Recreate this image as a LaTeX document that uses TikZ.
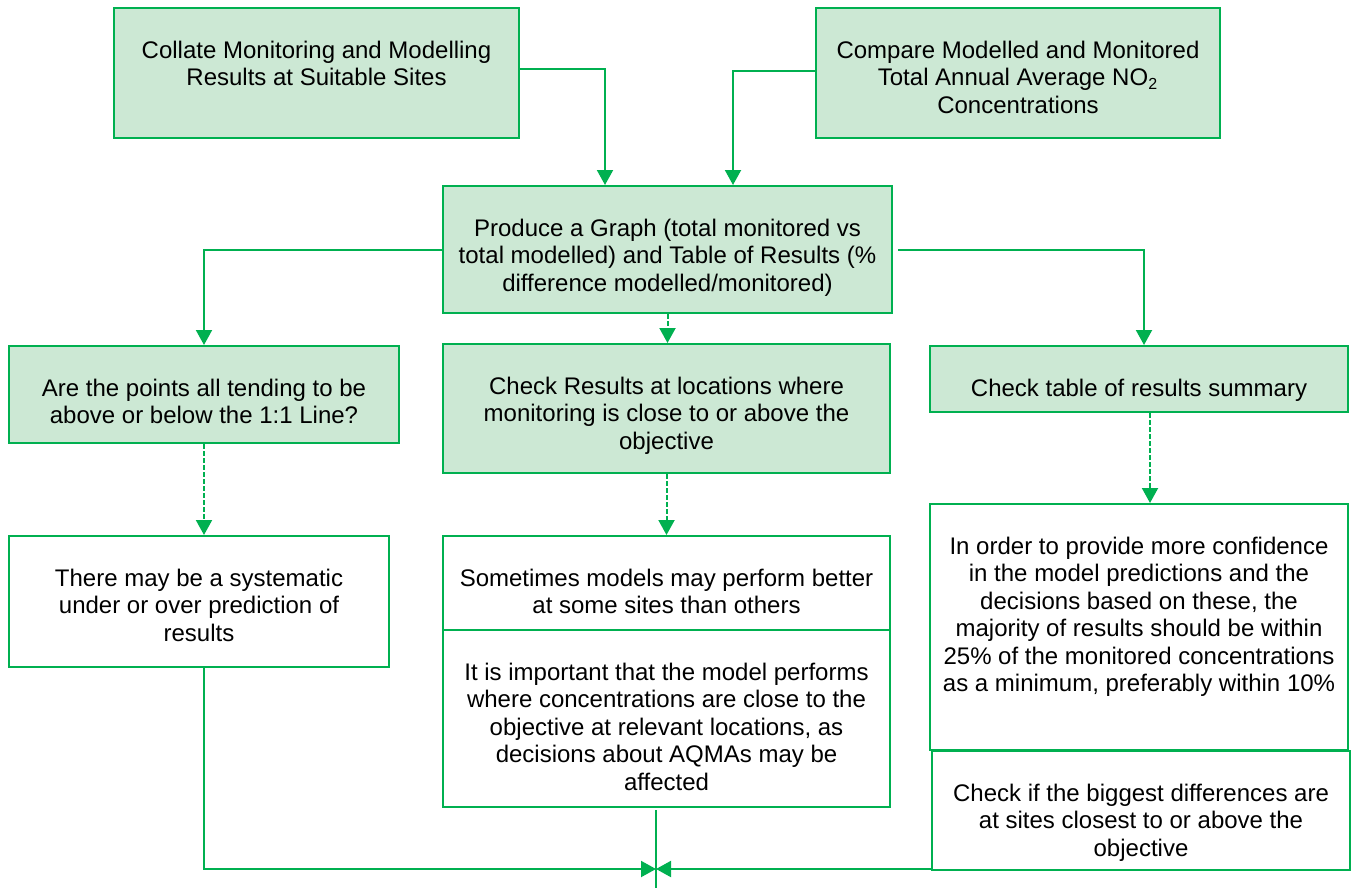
\documentclass[tikz,border=0pt]{standalone}
\usepackage{fontspec}
\setmainfont{Liberation Sans}
\usetikzlibrary{arrows.meta}
\definecolor{grn}{RGB}{0,176,80}
\definecolor{lgrn}{RGB}{204,232,212}
\newcommand\bt[3]{\parbox[c][#2pt][t]{#1pt}{\centering\vspace*{15.6pt}\strut#3}}
\begin{document}
\begin{tikzpicture}[x=0.5pt,y=-0.5pt,
  box/.style={draw=grn, line width=1pt, inner sep=0pt, anchor=north west, fill=white,
    font=\fontsize{12}{13.75}\selectfont},
  gbox/.style={box, fill=lgrn},
  ln/.style={draw=grn, line width=1pt},
  arr/.style={ln, -{Triangle[length=7.5pt,width=8pt]}},
  dsh/.style={arr, dash pattern=on 2.5pt off 1pt}]
\useasboundingbox (0,0) rectangle (1354,888);

\node[gbox] (collate) at (113,7) {\bt{202.5}{65}{Collate Monitoring and Modelling\\Results at Suitable Sites}};
\node[gbox] (compare) at (815,7) {\bt{202}{65}{Compare Modelled and Monitored\\Total Annual Average NO\textsubscript{2}\\Concentrations}};
\node[gbox] (produce) at (442,185) {\bt{224.5}{63.5}{Produce a Graph (total monitored vs\\total modelled) and Table of Results (\%\\difference modelled/monitored)}};
\node[gbox] (are) at (8,345) {\bt{195}{48.5}{Are the points all tending to be\\above or below the 1:1 Line?}};
\node[gbox] (checkres) at (442,343) {\bt{223.5}{64.5}{Check Results at locations where\\monitoring is close to or above the\\objective}};
\node[gbox] (checktable) at (929,345) {\bt{209}{33}{Check table of results summary}};
\node[box] (sys) at (8,535) {\bt{190}{65.5}{There may be a systematic\\under or over prediction of\\results}};
\node[box] (sometimes) at (442,535) {\bt{223.5}{47}{Sometimes models may perform better\\at some sites than others}};
\node[box] (important) at (442,629) {\bt{223.5}{88.5}{It is important that the model performs\\where concentrations are close to the\\objective at relevant locations, as\\decisions about AQMAs may be\\affected}};
\node[box] (inorder) at (929,503) {\bt{209}{123}{In order to provide more confidence\\in the model predictions and the\\decisions based on these, the\\majority of results should be within\\25\% of the monitored concentrations\\as a minimum, preferably within 10\%}};
\node[box] (checkif) at (931,750) {\bt{209}{59.5}{Check if the biggest differences are\\at sites closest to or above the\\objective}};

\coordinate (meet) at (656,869);
\coordinate (bot) at (656,888);

\draw[arr] ([yshift=2pt]collate.east) -| ([xshift=-31.25pt]produce.north);
\draw[arr] ([yshift=1pt]compare.west) -| ([xshift=32.75pt]produce.north);
\draw[arr] (produce.west) -| (are.north);
\draw[dsh] (produce.south) -- (produce.south |- checkres.north);
\draw[arr] ([xshift=2.5pt]produce.east) -| ([xshift=2.5pt]checktable.north);
\draw[dsh] (are.south) -- (are.south |- sys.north);
\draw[dsh] (checkres.south) -- (checkres.south |- sometimes.north);
\draw[dsh] ([xshift=5.5pt]checktable.south) -- ([xshift=5.5pt]checktable.south |- inorder.north);
\draw[arr] (are.south |- sys.south) |- (meet);
\draw[arr] (checkif.south west |- meet) -- (meet);
\draw[ln] ([yshift=-1pt]important.south -| meet) -- (bot);
\end{tikzpicture}
\end{document}
